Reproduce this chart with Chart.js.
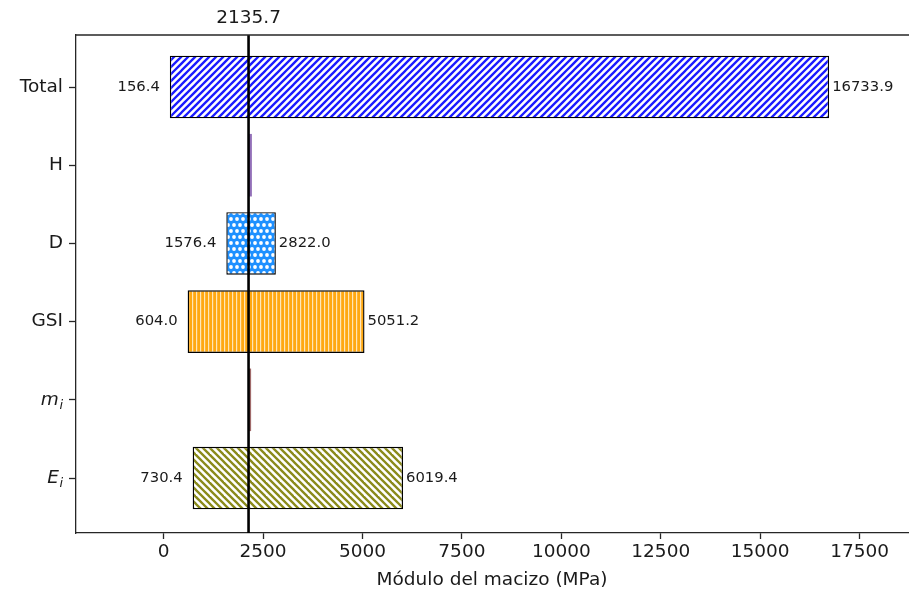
<!DOCTYPE html>
<html>
<head>
<meta charset="utf-8">
<script src="https://cdn.jsdelivr.net/npm/chart.js@4.4.1/dist/chart.umd.min.js"></script>
<style>
  html, body { margin: 0; padding: 0; background: #ffffff; }
  #wrap { width: 909px; height: 592px; }
</style>
</head>
<body>
<div id="wrap"><canvas id="c" width="909" height="592"></canvas></div>
<script>
// Sensitivity ranges of the rock-mass modulus for each input parameter
const categories = ['Total', 'H', 'D', 'GSI', 'm_i', 'E_i'];
const lowValues = [156.4, 2135.7, 1576.4, 604.0, 2135.7, 730.4];
const highValues = [16733.9, 2220, 2822.0, 5051.2, 2200, 6019.4];
const showValueLabels = [true, false, true, true, false, true];
const baseValue = 2135.7;
const xTickValues = [0, 2500, 5000, 7500, 10000, 12500, 15000, 17500];
const xAxisTitle = 'Módulo del macizo (MPa)';

const TEXT = '#1a1a1a';
const AXIS = '#262626';
const FONT = "'DejaVu Sans', 'Liberation Sans', sans-serif";

// Hatch fills
function tile(size, painter) {
  const cv = document.createElement('canvas');
  cv.width = size; cv.height = size;
  const g = cv.getContext('2d');
  painter(g, size);
  return g.createPattern(cv, 'repeat');
}
function diagonal(bg, fg, period, width, forward) {
  const s = period * 2;
  return tile(s, (g) => {
    g.fillStyle = bg; g.fillRect(0, 0, s, s);
    g.strokeStyle = fg; g.lineWidth = width; g.lineCap = 'square';
    for (let c = -s; c <= 2 * s; c += period) {
      g.beginPath();
      if (forward) { g.moveTo(c, 0); g.lineTo(c - s, s); }
      else { g.moveTo(c, 0); g.lineTo(c + s, s); }
      g.stroke();
    }
  });
}
function dots(bg, fg, period, r) {
  const s = period * 2;
  return tile(s, (g) => {
    g.fillStyle = bg; g.fillRect(0, 0, s, s);
    g.fillStyle = fg;
    const pts = [];
    for (let x = period / 2; x < s; x += period) pts.push([x, period / 2]);
    for (let x = 0; x <= s; x += period) pts.push([x, period * 1.5]);
    pts.forEach(([x, y]) => { g.beginPath(); g.arc(x, y, r, 0, Math.PI * 2); g.fill(); });
  });
}
function vertical(bg, fg, period, width) {
  return tile(period * 2, (g) => {
    const s = period * 2;
    g.fillStyle = bg; g.fillRect(0, 0, s, s);
    g.fillStyle = fg;
    for (let x = 0; x < s; x += period) g.fillRect(x, 0, width, s);
  });
}

const fills = [
  diagonal('#ffffff', '#1a1aff', 7, 2.3, true),
  '#9370b8',
  dots('#1e90ff', '#ffffff', 6, 1.9),
  vertical('#ffa812', '#ffe6b8', 4, 1.2),
  '#a06a6a',
  diagonal('#ffffff', '#8a8a1a', 7, 2.3, false)
];
const edges = ['#000000', '#9370b8', '#000000', '#000000', '#a06a6a', '#000000'];
const edgeWidths = [1.4, 0, 1.4, 1.4, 0, 1.4];

function drawLabel(ctx, text, xRight, yMid) {
  const parts = text.split('_');
  ctx.textBaseline = 'middle';
  ctx.textAlign = 'right';
  ctx.fillStyle = TEXT;
  if (parts.length === 1) {
    ctx.font = '18.5px ' + FONT;
    ctx.fillText(text, xRight, yMid);
    return;
  }
  ctx.font = 'italic 13px ' + FONT;
  const subW = ctx.measureText(parts[1]).width;
  ctx.fillText(parts[1], xRight, yMid + 6);
  ctx.font = 'italic 18.5px ' + FONT;
  ctx.fillText(parts[0], xRight - subW - 0.5, yMid);
}

const overlay = {
  id: 'overlay',
  beforeDraw(chart) {
    const ctx = chart.ctx;
    ctx.save();
    ctx.fillStyle = '#ffffff';
    ctx.fillRect(0, 0, chart.width, chart.height);
    ctx.restore();
  },
  afterDatasetsDraw(chart) {
    const ctx = chart.ctx;
    const xs = chart.scales.x, ys = chart.scales.y;
    const area = chart.chartArea;
    ctx.save();

    // value labels at both ends of each bar
    ctx.font = '14.8px ' + FONT;
    ctx.fillStyle = TEXT;
    ctx.textBaseline = 'middle';
    categories.forEach((c, i) => {
      if (!showValueLabels[i]) return;
      const y = ys.getPixelForValue(i);
      ctx.textAlign = 'right';
      ctx.fillText(lowValues[i].toFixed(1), xs.getPixelForValue(lowValues[i]) - 10, y);
      ctx.textAlign = 'left';
      ctx.fillText(highValues[i].toFixed(1), xs.getPixelForValue(highValues[i]) + 3, y);
    });

    // reference line at the base value
    const bx = xs.getPixelForValue(baseValue);
    ctx.strokeStyle = '#000000';
    ctx.lineWidth = 2.6;
    ctx.beginPath();
    ctx.moveTo(bx, area.top);
    ctx.lineTo(bx, area.bottom);
    ctx.stroke();

    // top frame line
    ctx.strokeStyle = AXIS;
    ctx.lineWidth = 1.3;
    ctx.beginPath();
    ctx.moveTo(area.left, area.top);
    ctx.lineTo(chart.width, area.top);
    ctx.stroke();

    // base value caption
    ctx.font = '18.5px ' + FONT;
    ctx.fillStyle = TEXT;
    ctx.textAlign = 'center';
    ctx.textBaseline = 'middle';
    ctx.fillText(baseValue.toFixed(1), bx, 18);

    // category labels
    categories.forEach((c, i) => drawLabel(ctx, c, 63, ys.getPixelForValue(i)));
    ctx.restore();
  }
};

new Chart(document.getElementById('c'), {
  type: 'bar',
  data: {
    datasets: [{
      data: categories.map((c, i) => ({ x: [lowValues[i], highValues[i]], y: i })),
      backgroundColor: fills,
      borderColor: edges,
      borderWidth: edgeWidths,
      borderSkipped: false,
      barPercentage: 0.8,
      categoryPercentage: 1.0
    }]
  },
  options: {
    indexAxis: 'y',
    responsive: false,
    animation: false,
    devicePixelRatio: 1,
    layout: { padding: { top: 35, right: 1, left: 0, bottom: 0 } },
    plugins: { legend: { display: false }, tooltip: { enabled: false } },
    scales: {
      x: {
        type: 'linear',
        min: -2203,
        max: 18717,
        afterBuildTicks: (s) => { s.ticks = xTickValues.map(v => ({ value: v })); },
        afterFit: (s) => { s.height = 59; },
        ticks: {
          color: TEXT,
          font: { family: FONT, size: 18.5 },
          padding: 2,
          maxRotation: 0,
          autoSkip: false,
          callback: (v) => String(v)
        },
        grid: { drawOnChartArea: false, drawTicks: true, tickLength: 6, tickColor: AXIS, tickWidth: 1.3 },
        border: { display: true, color: AXIS, width: 1.3 },
        title: {
          display: true,
          text: xAxisTitle,
          color: TEXT,
          font: { family: FONT, size: 18.5 },
          padding: { top: 0, bottom: 1 }
        }
      },
      y: {
        type: 'linear',
        reverse: true,
        offset: false,
        min: -0.665,
        max: 5.703,
        afterBuildTicks: (s) => { s.ticks = categories.map((c, i) => ({ value: i })); },
        afterFit: (s) => { s.width = 76; },
        ticks: { display: false },
        grid: { offset: false, drawOnChartArea: false, drawTicks: true, tickLength: 7, tickColor: AXIS, tickWidth: 1.3 },
        border: { display: true, color: AXIS, width: 1.3 }
      }
    }
  },
  plugins: [overlay]
});
</script>
</body>
</html>
